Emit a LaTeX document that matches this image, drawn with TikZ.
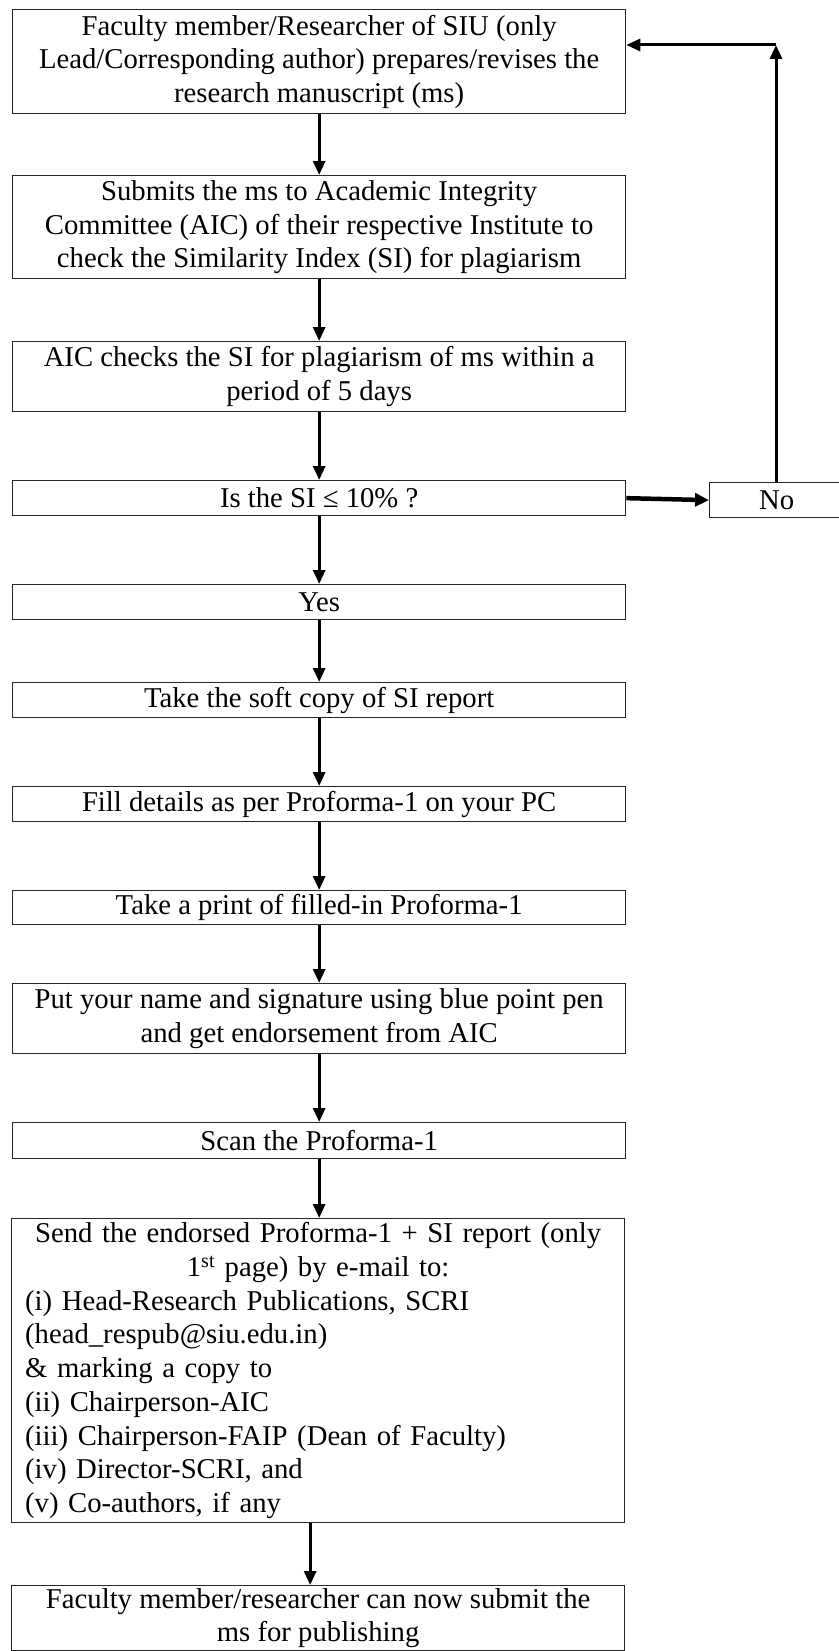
\documentclass[tikz,border=0pt]{standalone}
\usepackage{fontspec}
\setmainfont{Liberation Serif}
\usetikzlibrary{arrows.meta}
\newcommand\boxfont{\fontsize{28.7}{33.5}\selectfont}
\newcommand\bigboxfont{\fontsize{28.7}{33.7}\selectfont}
\begin{document}
\begin{tikzpicture}[x=1pt,y=-1pt,
  flowbox/.style={draw=black!85, line width=1.3pt, anchor=north west, align=center,
    inner xsep=4pt, inner ysep=0pt, minimum width=613pt, font=\boxfont},
  arr/.style={draw=black, line width=3pt, -{Triangle[length=14pt,width=12pt]}},
  thickarr/.style={draw=black, line width=4.5pt, -{Triangle[length=14pt,width=13pt]}}]
\useasboundingbox (0,0) rectangle (838,1651);
\fill[white] (0,0) rectangle (838,1651);

\node[flowbox, minimum height=104pt] (top) at (12,9)
  {Faculty member/Researcher of SIU (only\\Lead/Corresponding author) prepares/revises the\\research manuscript (ms)};
\node[flowbox, minimum height=103pt] (submit) at (12,175)
  {Submits the ms to Academic Integrity\\Committee (AIC) of their respective Institute to\\check the Similarity Index (SI) for plagiarism};
\node[flowbox, minimum height=70pt] (aic) at (12,341)
  {AIC checks the SI for plagiarism of ms within a\\period of 5 days};
\node[flowbox, minimum height=35pt] (dec) at (12,480) {Is the SI ≤ 10\% ?};
\node[flowbox, minimum width=134pt, minimum height=35pt] (no) at (709,482) {No};
\node[flowbox, minimum height=35pt] (yes) at (12,584) {Yes};
\node[flowbox, minimum height=35pt] (soft) at (12,682) {Take the soft copy of SI report};
\node[flowbox, minimum height=35pt] (fill) at (12,786) {Fill details as per Proforma-1 on your PC};
\node[flowbox, minimum height=34pt] (print) at (12,890) {Take a print of filled-in Proforma-1};
\node[flowbox, minimum height=70pt] (name) at (12,983)
  {Put your name and signature using blue point pen\\and get endorsement from AIC};
\node[flowbox, minimum height=36pt] (scan) at (12,1122) {Scan the Proforma-1};
\node[flowbox, minimum height=304pt, align=left, text width=586pt, inner xsep=13.5pt, font=\bigboxfont] (send) at (11,1218)
  {\makebox[\linewidth]{Send the endorsed Proforma-1 + SI report (only}\\
   \makebox[\linewidth]{1\textsuperscript{st} page) by e-mail to:}\\
   (i) Head-Research Publications, SCRI\\
   (head\_respub@siu.edu.in)\\
   \& marking a copy to\\
   (ii) Chairperson-AIC\\
   (iii) Chairperson-FAIP (Dean of Faculty)\\
   (iv) Director-SCRI, and\\
   (v) Co-authors, if any};
\node[flowbox, minimum height=65pt] (final) at (11,1585)
  {Faculty member/researcher can now submit the\\ms for publishing};

\coordinate (corner) at (776,45);

\draw[arr] (top.south) -- (submit.north);
\draw[arr] (submit.south) -- (aic.north);
\draw[arr] (aic.south) -- (dec.north);
\draw[thickarr] (dec.east) -- (no.west);
\draw[arr] (no.north -| corner) -- (corner);
\draw[arr] (corner) -- (top.east |- corner);
\draw[arr] (dec.south) -- (yes.north);
\draw[arr] (yes.south) -- (soft.north);
\draw[arr] (soft.south) -- (fill.north);
\draw[arr] (fill.south) -- (print.north);
\draw[arr] (print.south) -- (name.north);
\draw[arr] (name.south) -- (scan.north);
\draw[arr] (scan.south) -- (scan.south |- send.north);
\draw[arr] ([xshift=-8pt]send.south) -- ([xshift=-8pt]send.south |- final.north);
\end{tikzpicture}
\end{document}
